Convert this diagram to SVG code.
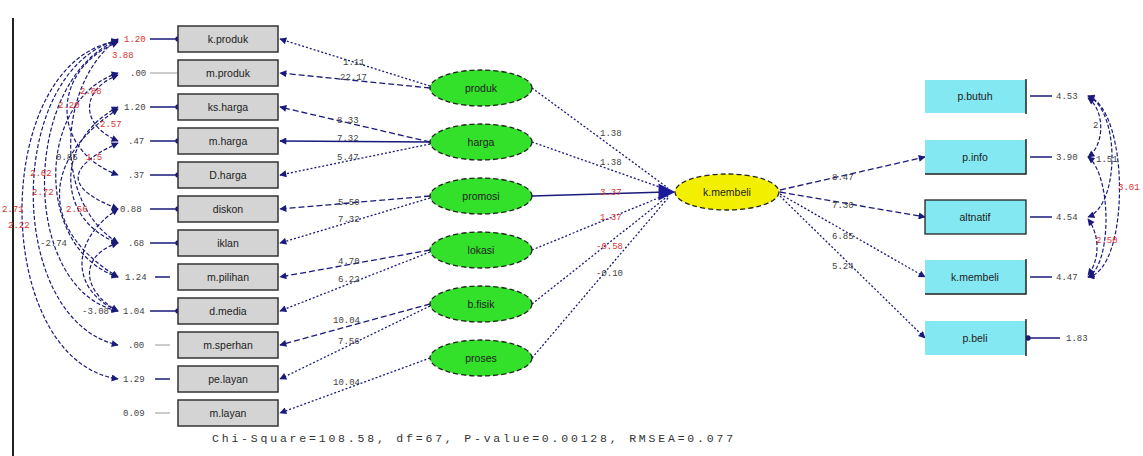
<svg xmlns="http://www.w3.org/2000/svg" width="1143" height="456" viewBox="0 0 1143 456">
<defs>
<marker id="ah" viewBox="0 0 10 10" refX="9" refY="5" markerWidth="9" markerHeight="7" orient="auto-start-reverse" markerUnits="userSpaceOnUse"><path d="M0,0 L10,5 L0,10 z" fill="#1a1a7a"/></marker>
<marker id="dot" viewBox="0 0 10 10" refX="5" refY="5" markerWidth="6" markerHeight="6" markerUnits="userSpaceOnUse"><circle cx="5" cy="5" r="4.5" fill="#1a1a7a"/></marker>
</defs>
<style>
text{font-family:"Liberation Sans",Arial,sans-serif;font-size:10px;fill:#333}
.lbl{font-family:"Liberation Mono",monospace;font-size:9px;fill:#444}
.red{fill:#e03030}
.bx{fill:#d4d4d4;stroke:#333;stroke-width:1.5}
.cy{fill:#84e8f2}
.gr{fill:#33e02a;stroke:#222;stroke-width:1.3;stroke-dasharray:5 3}
.ye{fill:#f2f000;stroke:#222;stroke-width:1.3;stroke-dasharray:5 3}
.ln{fill:none;stroke:#1a1a7a;stroke-width:1.3;stroke-dasharray:2 2}
.dl{fill:none;stroke:#1a1a7a;stroke-width:1.3;stroke-dasharray:6 3}
.sl{fill:none;stroke:#1a1a7a;stroke-width:1.3}
.cv{fill:none;stroke:#1a1a7a;stroke-width:1.2;stroke-dasharray:4 2}
.er{fill:none;stroke:#1a1a7a;stroke-width:1.5}
.eg{fill:none;stroke:#bbb;stroke-width:1.5}
.t{font-size:10.5px;fill:#222;text-anchor:middle}
</style>
<rect width="1143" height="456" fill="#fff"/>
<line x1="13" y1="18" x2="13" y2="456" stroke="#222" stroke-width="2"/>

<g id="connectors">
<path class="ln" d="M430,86 L280,39" marker-end="url(#ah)"/>
<path class="dl" d="M430,88 L280,73" marker-end="url(#ah)"/>
<path class="dl" d="M430,142 L280,107" marker-end="url(#ah)"/>
<path class="sl" d="M430,142 L280,141" marker-end="url(#ah)"/>
<path class="ln" d="M430,144 L280,175" marker-end="url(#ah)"/>
<path class="dl" d="M430,196 L280,209" marker-end="url(#ah)"/>
<path class="ln" d="M430,198 L280,243" marker-end="url(#ah)"/>
<path class="dl" d="M430,250 L280,277" marker-end="url(#ah)"/>
<path class="ln" d="M430,252 L280,311" marker-end="url(#ah)"/>
<path class="dl" d="M430,304 L280,345" marker-end="url(#ah)"/>
<path class="ln" d="M430,306 L280,379" marker-end="url(#ah)"/>
<path class="ln" d="M430,358 L280,413" marker-end="url(#ah)"/>
<path class="ln" d="M532,88 L668,188"/>
<path class="ln" d="M532,142 L668,190"/>
<path class="sl" d="M532,196 L666,192"/>
<path class="ln" d="M532,250 L668,194"/>
<path class="ln" d="M532,304 L668,196"/>
<path class="ln" d="M532,358 L668,198"/>
<path d="M660,186 L672,192 L660,198 z" fill="#1a1a9a" stroke="#1a1a9a" stroke-width="3"/>
<path class="dl" d="M780,190 L925,157" marker-end="url(#ah)"/>
<path class="dl" d="M780,192 L925,217" marker-end="url(#ah)"/>
<path class="ln" d="M780,194 L925,277" marker-end="url(#ah)"/>
<path class="ln" d="M780,196 L925,338" marker-end="url(#ah)"/>
<path class="er" d="M150,39 L178,39" marker-end="url(#dot)"/>
<path class="eg" d="M150,73 L178,73"/>
<path class="er" d="M150,107 L178,107" marker-end="url(#dot)"/>
<path class="er" d="M150,141 L178,141" marker-end="url(#dot)"/>
<path class="er" d="M150,175 L178,175" marker-end="url(#dot)"/>
<path class="er" d="M150,209 L178,209" marker-end="url(#dot)"/>
<path class="er" d="M150,243 L178,243" marker-end="url(#dot)"/>
<path class="er" d="M155,277 L170,277" stroke-width="3"/>
<path class="er" d="M150,311 L178,311" marker-end="url(#dot)"/>
<path class="eg" d="M155,345 L170,345"/>
<path class="er" d="M155,379 L170,379" stroke-width="3"/>
<path class="eg" d="M155,413 L170,413"/>
<path class="er" d="M1052,96 L1030,96" stroke-width="3"/>
<path class="er" d="M1052,157 L1030,157" stroke-width="3"/>
<path class="er" d="M1052,217 L1030,217" stroke-width="3"/>
<path class="er" d="M1052,277 L1030,277" stroke-width="3"/>
<path class="er" d="M1060,338 L1028,338" marker-end="url(#dot)"/>
<path class="cv" d="M118,41 C-10,60 -10,360 118,379" marker-start="url(#ah)" marker-end="url(#ah)"/>
<path class="cv" d="M118,40 C5,70 5,320 118,345" marker-start="url(#ah)" marker-end="url(#ah)"/>
<path class="cv" d="M118,40 C20,80 20,290 118,311" marker-start="url(#ah)" marker-end="url(#ah)"/>
<path class="cv" d="M118,73 C35,100 35,250 118,277" marker-start="url(#ah)" marker-end="url(#ah)"/>
<path class="cv" d="M118,42 C50,70 50,150 118,175" marker-start="url(#ah)" marker-end="url(#ah)"/>
<path class="cv" d="M118,107 C55,140 55,220 118,243" marker-start="url(#ah)" marker-end="url(#ah)"/>
<path class="cv" d="M118,75 C80,90 80,125 118,141" marker-start="url(#ah)" marker-end="url(#ah)"/>
<path class="cv" d="M118,143 C60,170 70,190 118,209" marker-start="url(#ah)" marker-end="url(#ah)"/>
<path class="cv" d="M118,209 C70,240 70,290 118,311" marker-start="url(#ah)" marker-end="url(#ah)"/>
<path class="cv" d="M118,109 C40,160 40,230 118,277" marker-start="url(#ah)" marker-end="url(#ah)"/>
<path class="cv" d="M118,243 C80,255 80,290 118,311" marker-start="url(#ah)" marker-end="url(#ah)"/>
<path class="cv" d="M118,39 C60,80 50,200 118,243" marker-start="url(#ah)" marker-end="url(#ah)"/>
<path class="cv" d="M1088,96 C1130,110 1130,270 1088,277" marker-start="url(#ah)" marker-end="url(#ah)"/>
<path class="cv" d="M1088,96 C1120,110 1120,205 1088,217" marker-start="url(#ah)" marker-end="url(#ah)"/>
<path class="cv" d="M1088,98 C1105,110 1105,145 1088,157" marker-start="url(#ah)" marker-end="url(#ah)"/>
<path class="cv" d="M1088,157 C1112,175 1112,265 1088,277" marker-start="url(#ah)" marker-end="url(#ah)"/>
<path class="cv" d="M1088,219 C1100,235 1100,260 1088,275" marker-start="url(#ah)" marker-end="url(#ah)"/>
</g>

<g id="left-variances">
<text class="lbl red" x="124" y="42">1.20</text>
<text class="lbl" x="130" y="76">.00</text>
<text class="lbl" x="124" y="110">1.20</text>
<text class="lbl" x="128" y="144">.47</text>
<text class="lbl" x="128" y="178">.37</text>
<text class="lbl" x="120" y="212">0.88</text>
<text class="lbl" x="128" y="246">.68</text>
<text class="lbl" x="125" y="280">1.24</text>
<text class="lbl" x="123" y="314">1.04</text>
<text class="lbl" x="128" y="348">.00</text>
<text class="lbl" x="123" y="382">1.29</text>
<text class="lbl" x="123" y="416">0.09</text>
<text class="lbl red" x="112" y="58">3.88</text>
<text class="lbl red" x="80" y="94">2.88</text>
<text class="lbl red" x="58" y="108">2.20</text>
<text class="lbl red" x="100" y="127">2.57</text>
<text class="lbl" x="56" y="160">0.85</text>
<text class="lbl red" x="86" y="160">1.5</text>
<text class="lbl red" x="30" y="176">2.62</text>
<text class="lbl red" x="32" y="195">2.72</text>
<text class="lbl red" x="2" y="212">2.71</text>
<text class="lbl red" x="66" y="212">2.56</text>
<text class="lbl red" x="8" y="228">2.22</text>
<text class="lbl" x="40" y="246">-2.74</text>
<text class="lbl" x="82" y="314">-3.08</text>
</g>

<g id="loading-labels">
<text class="lbl" x="343" y="65">1.11</text>
<text class="lbl" x="340" y="80">22.17</text>
<text class="lbl" x="337" y="123">8.33</text>
<text class="lbl" x="337" y="141">7.32</text>
<text class="lbl" x="337" y="160">5.47</text>
<text class="lbl" x="338" y="205">5.50</text>
<text class="lbl" x="338" y="222">7.32</text>
<text class="lbl" x="338" y="264">4.70</text>
<text class="lbl" x="338" y="282">6.22</text>
<text class="lbl" x="333" y="323">10.04</text>
<text class="lbl" x="338" y="344">7.56</text>
<text class="lbl" x="333" y="385">10.04</text>
<text class="lbl" x="600" y="136">1.38</text>
<text class="lbl" x="600" y="165">1.38</text>
<text class="lbl red" x="600" y="195">3.37</text>
<text class="lbl red" x="600" y="220">1.37</text>
<text class="lbl red" x="596" y="249">-0.58</text>
<text class="lbl" x="596" y="276">-0.10</text>
<text class="lbl" x="832" y="180">8.47</text>
<text class="lbl" x="832" y="208">7.30</text>
<text class="lbl" x="832" y="239">6.85</text>
<text class="lbl" x="832" y="269">5.24</text>
</g>

<g id="right-variances">
<text class="lbl" x="1056" y="99">4.53</text>
<text class="lbl" x="1056" y="160">3.90</text>
<text class="lbl" x="1056" y="220">4.54</text>
<text class="lbl" x="1056" y="280">4.47</text>
<text class="lbl" x="1066" y="341">1.83</text>
<text class="lbl" x="1093" y="128">2</text>
<text class="lbl" x="1096" y="162">1.51</text>
<text class="lbl red" x="1118" y="190">3.01</text>
<text class="lbl red" x="1096" y="243">2.50</text>
</g>

<g id="k-produk"><rect class="bx" x="178" y="26" width="100" height="26"/><text class="t" x="228" y="43">k.produk</text></g>
<g id="m-produk"><rect class="bx" x="178" y="60" width="100" height="26"/><text class="t" x="228" y="77">m.produk</text></g>
<g id="ks-harga"><rect class="bx" x="178" y="94" width="100" height="26"/><text class="t" x="228" y="111">ks.harga</text></g>
<g id="m-harga"><rect class="bx" x="178" y="128" width="100" height="26"/><text class="t" x="228" y="145">m.harga</text></g>
<g id="d-harga"><rect class="bx" x="178" y="162" width="100" height="26"/><text class="t" x="228" y="179">D.harga</text></g>
<g id="diskon"><rect class="bx" x="178" y="196" width="100" height="26"/><text class="t" x="228" y="213">diskon</text></g>
<g id="iklan"><rect class="bx" x="178" y="230" width="100" height="26"/><text class="t" x="228" y="247">iklan</text></g>
<g id="m-pilihan"><rect class="bx" x="178" y="264" width="100" height="26"/><text class="t" x="228" y="281">m.pilihan</text></g>
<g id="d-media"><rect class="bx" x="178" y="298" width="100" height="26"/><text class="t" x="228" y="315">d.media</text></g>
<g id="m-sperhan"><rect class="bx" x="178" y="332" width="100" height="26"/><text class="t" x="228" y="349">m.sperhan</text></g>
<g id="pe-layan"><rect class="bx" x="178" y="366" width="100" height="26"/><text class="t" x="228" y="383">pe.layan</text></g>
<g id="m-layan"><rect class="bx" x="178" y="400" width="100" height="26"/><text class="t" x="228" y="417">m.layan</text></g>

<g id="produk"><ellipse class="gr" cx="481" cy="88" rx="51" ry="18"/><text class="t" x="481" y="92">produk</text></g>
<g id="harga"><ellipse class="gr" cx="481" cy="142" rx="51" ry="18"/><text class="t" x="481" y="146">harga</text></g>
<g id="promosi"><ellipse class="gr" cx="481" cy="196" rx="51" ry="18"/><text class="t" x="481" y="200">promosi</text></g>
<g id="lokasi"><ellipse class="gr" cx="481" cy="250" rx="51" ry="18"/><text class="t" x="481" y="254">lokasi</text></g>
<g id="b-fisik"><ellipse class="gr" cx="481" cy="304" rx="51" ry="18"/><text class="t" x="481" y="308">b.fisik</text></g>
<g id="proses"><ellipse class="gr" cx="481" cy="358" rx="51" ry="18"/><text class="t" x="481" y="362">proses</text></g>

<g id="k-membeli"><ellipse class="ye" cx="727" cy="192" rx="52" ry="18"/><text class="t" x="727" y="196">k.membeli</text></g>

<g id="p-butuh"><rect class="cy" x="925" y="80" width="101" height="33"/><line x1="1026" y1="79" x2="1026" y2="114" stroke="#222" stroke-width="1.5"/><text class="t" x="975" y="100">p.butuh</text></g>
<g id="p-info"><rect class="cy" x="925" y="140" width="101" height="34"/><path d="M1026,139 V174 H925" fill="none" stroke="#222" stroke-width="1.5"/><text class="t" x="975" y="161">p.info</text></g>
<g id="altnatif"><rect class="cy" x="925" y="200" width="101" height="34"/><rect x="925" y="200" width="101" height="34" fill="none" stroke="#222" stroke-width="1.3"/><text class="t" x="975" y="221">altnatif</text></g>
<g id="k-membeli-box"><rect class="cy" x="925" y="260" width="101" height="34"/><path d="M1026,259 V294 H925" fill="none" stroke="#222" stroke-width="1.5"/><text class="t" x="975" y="281">k.membeli</text></g>
<g id="p-beli"><rect class="cy" x="925" y="321" width="101" height="34"/><line x1="1026" y1="319" x2="1026" y2="356" stroke="#222" stroke-width="1.5"/><text class="t" x="975" y="342">p.beli</text></g>

<text x="212" y="442" style="font-family:'Liberation Mono',monospace;font-size:11.5px;fill:#333;letter-spacing:2.8px">Chi-Square=108.58, df=67, P-value=0.00128, RMSEA=0.077</text>
</svg>
